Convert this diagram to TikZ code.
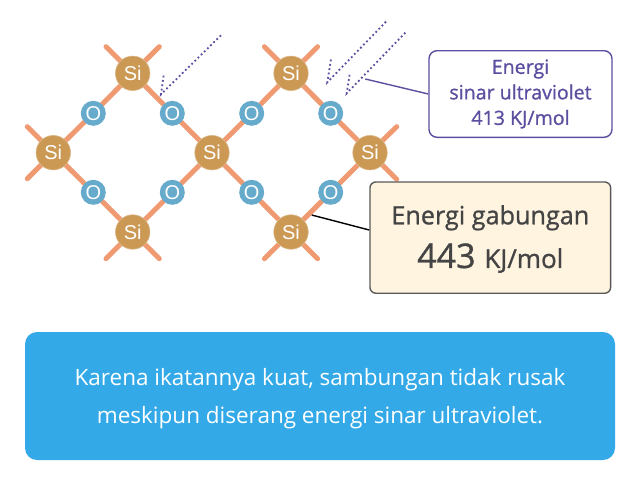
\documentclass[tikz,border=0pt]{standalone}
\usepackage{fontspec}
\usepackage{tikz}
\setmainfont{Open Sans}
\newfontfamily\atomfont{Liberation Sans}
\newfontfamily\medfont[FakeBold=1]{Open Sans}
\definecolor{siFill}{HTML}{CC9955}
\definecolor{oFill}{HTML}{66AACC}
\definecolor{bondLine}{HTML}{F09A72}
\definecolor{uvLine}{HTML}{5B4FA0}
\definecolor{gabungFill}{HTML}{FFF4E0}
\definecolor{gabungLine}{HTML}{595959}
\definecolor{gabungText}{HTML}{444444}
\definecolor{noteFill}{HTML}{33A9E8}
\usetikzlibrary{backgrounds}
\tikzstyle{silikon}=[circle, draw=siFill!70!white, line width=0.6pt, fill=siFill, text=white, minimum size=34.5pt, inner sep=0pt, font=\atomfont\fontsize{20}{24}\selectfont]
\tikzstyle{oksigen}=[circle, fill=oFill, text=white, minimum size=25pt, inner sep=0pt, font=\atomfont\fontsize{20}{24}\selectfont]
\tikzstyle{bond}=[draw=bondLine, line width=5pt, line cap=round]
\tikzstyle{sinar}=[draw=uvLine, line width=1.8pt, dash pattern=on 1.8pt off 2.6pt]
\tikzstyle{kotak}=[rectangle, rounded corners=8pt, inner sep=0pt, align=center]

\begin{document}
\begin{tikzpicture}[x=1pt, y=-1pt]
		\useasboundingbox (0,0) rectangle (640,480);
		% atoms
		\node[silikon](si1) at (132.7,73.3) {Si};
		\node[silikon](si2) at (53.3,152.7) {Si};
		\node[silikon](si3) at (212,152.7) {Si};
		\node[silikon](si4) at (132.7,232) {Si};
		\node[silikon](si5) at (291,73.3) {Si};
		\node[silikon](si6) at (291,232) {Si};
		\node[silikon](si7) at (370,152.7) {Si};
		\node[oksigen](o1) at (93.3,113.3) {O};
		\node[oksigen](o2) at (172.3,113.3) {O};
		\node[oksigen](o3) at (251.7,113.3) {O};
		\node[oksigen](o4) at (330.7,113.3) {O};
		\node[oksigen](o5) at (93.3,192.3) {O};
		\node[oksigen](o6) at (172.3,192.3) {O};
		\node[oksigen](o7) at (251.7,192.3) {O};
		\node[oksigen](o8) at (330.7,192.3) {O};
		% free ends of the bonds
		\coordinate (e1) at (106,46.7);
		\coordinate (e2) at (159.3,46.7);
		\coordinate (e3) at (27.3,126.7);
		\coordinate (e4) at (27.3,178.7);
		\coordinate (e5) at (106,258.7);
		\coordinate (e6) at (159.3,258.7);
		\coordinate (e7) at (264.4,46.7);
		\coordinate (e8) at (317.6,46.7);
		\coordinate (e9) at (264.4,258.7);
		\coordinate (e10) at (317.6,258.7);
		\coordinate (e11) at (396.7,126.7);
		\coordinate (e12) at (396.7,179.3);
		\begin{pgfonlayer}{background}
			\path[bond]
				(si1) -- (o1) (o1) -- (si2) (si2) -- (o5) (o5) -- (si4)
				(si4) -- (o6) (o6) -- (si3) (si3) -- (o2) (o2) -- (si1)
				(si3) -- (o3) (o3) -- (si5) (si5) -- (o4) (o4) -- (si7)
				(si7) -- (o8) (o8) -- (si6) (si6) -- (o7) (o7) -- (si3)
				(si1) -- (e1) (si1) -- (e2) (si2) -- (e3) (si2) -- (e4)
				(si4) -- (e5) (si4) -- (e6) (si5) -- (e7) (si5) -- (e8)
				(si6) -- (e9) (si6) -- (e10) (si7) -- (e11) (si7) -- (e12);
		\end{pgfonlayer}
		% ultraviolet rays
		\coordinate (r1a) at (221,35.3);
		\coordinate (r1b) at (161,94.3);
		\coordinate (r1c) at (163.7,75);
		\coordinate (r2a) at (386,21.7);
		\coordinate (r2b) at (327.3,82.3);
		\coordinate (r2c) at (331,59.3);
		\coordinate (r3a) at (405.3,32.7);
		\coordinate (r3b) at (346.7,93.3);
		\coordinate (r3c) at (350,72.3);
		\path[sinar]
			(r1a) -- (r1b) -- (r1c)
			(r2a) -- (r2b) -- (r2c)
			(r3a) -- (r3b) -- (r3c);
		% boxes
		\node[kotak, draw=uvLine, line width=1.4pt, fill=white, text=uvLine, minimum width=183pt, minimum height=86.6pt, font=\medfont\fontsize{19.6}{25.5}\selectfont](uvbox) at (520.5,94) {Energi\\sinar ultraviolet\\413 KJ/mol};
		\node[kotak, rounded corners=6pt, draw=gabungLine, line width=1.4pt, fill=gabungFill, text=gabungText, minimum width=240.7pt, minimum height=111.3pt](gabungbox) at (490.3,237.6) {\medfont\fontsize{25.2}{30}\selectfont\rule{0pt}{22pt}Energi gabungan\\[12pt]\medfont\fontsize{34}{40}\selectfont 443 \fontsize{26}{30}\selectfont KJ/mol};
		\node[kotak, rounded corners=12pt, fill=noteFill, text=white, minimum width=590pt, minimum height=128pt, font=\fontsize{22.5}{38}\selectfont](notebox) at (320,396) {\rule{0pt}{23pt}Karena ikatannya kuat, sambungan tidak rusak\\meskipun diserang energi sinar ultraviolet.};
		% leaders
		\coordinate (l1) at (365.3,79);
		\coordinate (l2) at (311.7,215);
		\path[draw=uvLine, line width=1.4pt] (l1) -- (uvbox.west);
		\path[draw=black, line width=1.4pt] (l2) -- ([yshift=7.6pt]gabungbox.west);
	\end{tikzpicture}
\end{document}
